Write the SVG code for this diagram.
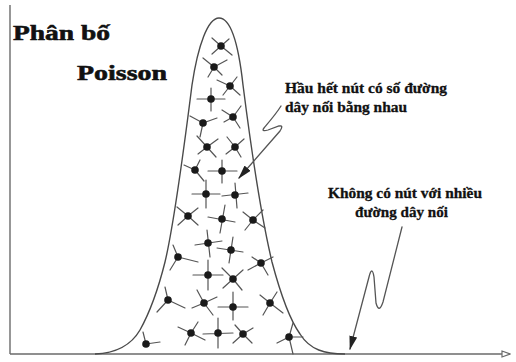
<svg xmlns="http://www.w3.org/2000/svg" width="516" height="362" viewBox="0 0 516 362">
<defs>
<style>
.axis{fill:none;stroke:#6a6a6a;stroke-width:1.4}
.bell{fill:none;stroke:#4a4a4a;stroke-width:1.4}
.sp{fill:none;stroke:#555;stroke-width:1.2;stroke-linecap:round}
.dot{fill:#1a1a1a}
.conn{fill:none;stroke:#555;stroke-width:1.3;stroke-linecap:round}
</style>
<marker id="ah" viewBox="0 0 14 8" refX="13" refY="4" markerWidth="14" markerHeight="8" markerUnits="userSpaceOnUse" orient="auto">
<path d="M0,0 L14,4 L0,8 z" fill="#222"/>
</marker>
<marker id="oh" viewBox="0 0 10 8" refX="9" refY="4" markerWidth="10" markerHeight="8" markerUnits="userSpaceOnUse" orient="auto">
<path d="M1,1 L9,4 L1,7 z" fill="#fff" stroke="#6a6a6a" stroke-width="1.2"/>
</marker>
</defs>
<rect width="516" height="362" fill="#fff"/>
<g id="axes">
<path class="axis" d="M10 5 L10 354"/>
<path class="axis" d="M10 354 L510 354" marker-end="url(#oh)"/>
</g>
<g id="bell">
<path class="bell" d="M95 354 C120 353 133 342 140 330 C150 312 158 290 165 262 C175 220 185 140 192 85 C198 45 208 18 219 18 C230 18 238 40 243 85 C250 140 262 220 272 262 C280 292 290 320 300 334 C310 350 325 354 345 354"/>
</g>
<g id="title" font-family="'Liberation Serif', 'DejaVu Serif', serif" font-weight="bold" font-size="22" fill="#111" stroke="#111" stroke-width="0.6">
<text x="13" y="40" textLength="97" lengthAdjust="spacingAndGlyphs">Phân bố</text>
<text x="77" y="80" textLength="90" lengthAdjust="spacingAndGlyphs">Poisson</text>
</g>
<g id="n1"><path class="sp" d="M221 46 L212 38 M221 46 L229 39 M221 46 L212 54 M221 46 L232 55"/><circle class="dot" cx="221" cy="46" r="3.8"/></g>
<g id="n2"><path class="sp" d="M214 67 L203 58 M214 67 L227 60 M214 67 L208 77 M214 67 L222 75"/><circle class="dot" cx="214" cy="67" r="3.8"/></g>
<g id="n3"><path class="sp" d="M230 86 L217 80 M230 86 L237 77 M230 86 L240 95 M230 86 L223 95"/><circle class="dot" cx="230" cy="86" r="3.8"/></g>
<g id="n4"><path class="sp" d="M197 99 L225 99 M211 88 L211 111"/><circle class="dot" cx="211" cy="99" r="3.8"/></g>
<g id="n5"><path class="sp" d="M203 123 L190 116 M203 123 L217 118 M203 123 L200 137"/><circle class="dot" cx="203" cy="123" r="3.8"/></g>
<g id="n6"><path class="sp" d="M233 117 L222 110 M233 117 L241 106 M233 117 L240 128 M233 117 L224 122"/><circle class="dot" cx="233" cy="117" r="3.8"/></g>
<g id="n7"><path class="sp" d="M207 147 L197 136 M207 147 L218 139 M207 147 L216 157 M207 147 L198 154"/><circle class="dot" cx="207" cy="147" r="3.8"/></g>
<g id="n8"><path class="sp" d="M235 147 L227 137 M235 147 L244 139 M235 147 L241 157 M235 147 L226 154"/><circle class="dot" cx="235" cy="147" r="3.8"/></g>
<g id="n9"><path class="sp" d="M195 170 L184 165 M195 170 L200 160 M195 170 L204 181"/><circle class="dot" cx="195" cy="170" r="3.8"/></g>
<g id="n10"><path class="sp" d="M208 171 L237 171 M222 160 L222 183"/><circle class="dot" cx="222" cy="171" r="3.8"/></g>
<g id="n11"><path class="sp" d="M192 194 L220 194 M206 180 L206 208"/><circle class="dot" cx="206" cy="194" r="3.8"/></g>
<g id="n12"><path class="sp" d="M222 196 L248 193 M235 183 L237 208"/><circle class="dot" cx="235" cy="195" r="3.8"/></g>
<g id="n13"><path class="sp" d="M188 216 L177 207 M188 216 L198 208 M188 216 L198 225 M188 216 L178 225"/><circle class="dot" cx="188" cy="216" r="3.8"/></g>
<g id="n14"><path class="sp" d="M208 217 L235 222 M225 205 L220 233"/><circle class="dot" cx="222" cy="219" r="3.8"/></g>
<g id="n15"><path class="sp" d="M253 220 L243 212 M253 220 L263 210 M253 220 L265 228 M253 220 L245 230"/><circle class="dot" cx="253" cy="220" r="3.8"/></g>
<g id="n16"><path class="sp" d="M195 245 L222 241 M207 230 L210 257"/><circle class="dot" cx="208" cy="243" r="3.8"/></g>
<g id="n17"><path class="sp" d="M217 248 L243 252 M233 237 L229 263"/><circle class="dot" cx="231" cy="250" r="3.8"/></g>
<g id="n18"><path class="sp" d="M178 257 L173 245 M178 257 L198 262 M178 257 L170 270"/><circle class="dot" cx="178" cy="257" r="3.8"/></g>
<g id="n19"><path class="sp" d="M261 263 L252 257 M261 263 L273 257 M261 263 L268 275 M261 263 L248 270"/><circle class="dot" cx="261" cy="263" r="3.8"/></g>
<g id="n20"><path class="sp" d="M193 275 L223 275 M208 260 L208 290"/><circle class="dot" cx="208" cy="275" r="3.8"/></g>
<g id="n21"><path class="sp" d="M233 279 L222 268 M233 279 L243 270 M233 279 L242 290 M233 279 L223 288"/><circle class="dot" cx="233" cy="279" r="3.8"/></g>
<g id="n22"><path class="sp" d="M168 300 L165 287 M168 300 L185 308 M168 300 L157 312"/><circle class="dot" cx="168" cy="300" r="3.8"/></g>
<g id="n23"><path class="sp" d="M204 303 L197 290 M204 303 L217 297 M204 303 L213 315 M204 303 L192 308"/><circle class="dot" cx="204" cy="303" r="3.8"/></g>
<g id="n24"><path class="sp" d="M218 307 L248 307 M233 292 L233 320"/><circle class="dot" cx="233" cy="307" r="3.8"/></g>
<g id="n25"><path class="sp" d="M270 303 L260 295 M270 303 L277 292 M270 303 L283 313 M270 303 L263 315"/><circle class="dot" cx="270" cy="303" r="3.8"/></g>
<g id="n26"><path class="sp" d="M191 333 L178 327 M191 333 L198 322 M191 333 L205 340 M191 333 L185 345"/><circle class="dot" cx="191" cy="333" r="3.8"/></g>
<g id="n27"><path class="sp" d="M203 334 L233 333 M218 318 L218 348"/><circle class="dot" cx="218" cy="333" r="3.8"/></g>
<g id="n28"><path class="sp" d="M243 334 L235 325 M243 334 L253 328 M243 334 L252 343 M243 334 L233 343"/><circle class="dot" cx="243" cy="334" r="3.8"/></g>
<g id="n29"><path class="sp" d="M289 337 L277 343 M289 337 L293 323 M289 337 L303 337 M289 337 L293 354"/><circle class="dot" cx="289" cy="337" r="3.8"/></g>
<g id="n30"><path class="sp" d="M146 344 L143 332 M146 344 L160 342"/><circle class="dot" cx="146" cy="344" r="3.8"/></g>
<g id="connectors">
<path class="conn" d="M281 106 C276 114 269 122 264 128 Q261 132 268 130 L279 126 Q284 125 280 131 L239 178" marker-end="url(#ah)"/>
<path class="conn" d="M402 227 L383 302 Q379 314 376 303 L374 277 Q372 265 369 277 L350 349" marker-end="url(#ah)"/>
</g>
<g id="labels" font-family="'Liberation Serif', 'DejaVu Serif', serif" font-weight="bold" font-size="15" fill="#111" stroke="#111" stroke-width="0.3">
<text x="285" y="93" textLength="162" lengthAdjust="spacingAndGlyphs">Hầu hết nút có số đường</text>
<text x="285" y="112" textLength="122" lengthAdjust="spacingAndGlyphs">dây nối bằng nhau</text>
<text x="328" y="198" textLength="154" lengthAdjust="spacingAndGlyphs">Không có nút với nhiều</text>
<text x="355" y="217" textLength="93" lengthAdjust="spacingAndGlyphs">đường dây nối</text>
</g>
</svg>
